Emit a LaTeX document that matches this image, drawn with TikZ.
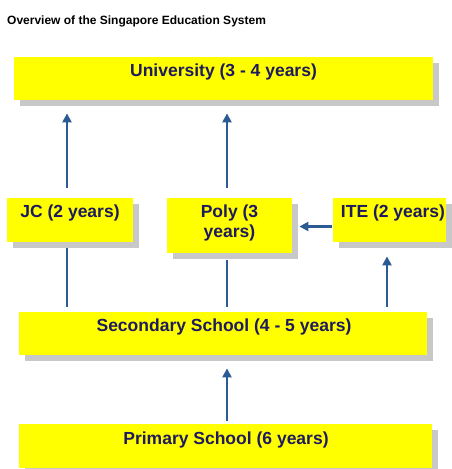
\documentclass[tikz,border=0pt]{standalone}
\usepackage{fontspec}
\setmainfont{Liberation Sans}
\usetikzlibrary{arrows.meta,shadows}

\definecolor{boxyellow}{RGB}{255,255,0}
\definecolor{shadowgray}{RGB}{200,200,200}
\definecolor{labelnavy}{RGB}{30,26,94}
\definecolor{arrowblue}{RGB}{44,90,148}

\tikzset{
  stagebox/.style={rectangle, fill=boxyellow, draw=none, inner sep=0pt, anchor=north west,
    general shadow={shadow xshift=6pt, shadow yshift=-6pt, fill=shadowgray}},
  stagetext/.style={text=labelnavy, inner sep=0pt, anchor=base, align=center,
    font=\fontsize{17.5}{20}\selectfont\bfseries},
  flow/.style={draw=arrowblue, line width=2.7pt, -{Triangle[width=9pt,length=9pt]}},
  link/.style={draw=arrowblue, line width=2.7pt},
}

\begin{document}
\begin{tikzpicture}[x=1pt, y=-1pt]
  \useasboundingbox (0,0) rectangle (451,469);

  % heading
  \node[anchor=base west, inner sep=0pt, font=\fontsize{12}{14}\selectfont\bfseries] (heading) at (7,24)
    {Overview of the Singapore Education System};

  % stage boxes
  \node[stagebox, minimum width=419pt, minimum height=43pt] (univ) at (14,57) {};
  \node[stagebox, minimum width=126pt, minimum height=44pt] (jc)   at (7,198) {};
  \node[stagebox, minimum width=125pt, minimum height=55pt] (poly) at (167,198) {};
  \node[stagebox, minimum width=113pt, minimum height=44pt] (ite)  at (333,198) {};
  \node[stagebox, minimum width=408pt, minimum height=43pt] (sec)  at (19,312) {};
  \node[stagebox, minimum width=413pt, minimum height=44pt] (prim) at (19,424) {};

  % stage labels (a two-line label sits on the baseline of its last line)
  \node[stagetext] (univ-t) at (223.5,76) {University (3 - 4 years)};
  \node[stagetext] (jc-t)   at (70,217)   {JC (2 years)};
  \node[stagetext] (poly-t) at (229.5,237) {Poly (3\\years)};
  \node[stagetext] (ite-t)  at (393,217)  {ITE (2 years)};
  \node[stagetext] (sec-t)  at (224,331)  {Secondary School (4 - 5 years)};
  \node[stagetext] (prim-t) at (226,444)  {Primary School (6 years)};

  % vertical guides for the connectors
  \coordinate (xa) at (67,0);
  \coordinate (xb) at (227,0);
  \coordinate (xc) at (387,0);
  \coordinate (yh) at (0,226.5);

  % progression arrows
  \draw[flow, shorten <=10pt, shorten >=13pt] (jc.north -| xa) -- (univ.south -| xa);
  \draw[flow, shorten <=10pt, shorten >=13pt] (poly.north -| xb) -- (univ.south -| xb);
  \draw[link, shorten <=6pt, shorten >=5pt] (jc.south -| xa) -- (sec.north -| xa);
  \draw[link, shorten <=7pt, shorten >=5pt] (poly.south -| xb) -- (sec.north -| xb);
  \draw[flow, shorten <=5pt, shorten >=14pt] (sec.north -| xc) -- (ite.south -| xc);
  \draw[flow, shorten <=1pt, shorten >=7pt] (ite.west |- yh) -- (poly.east |- yh);
  \draw[flow, shorten <=3pt, shorten >=13pt] (prim.north -| xb) -- (sec.south -| xb);
\end{tikzpicture}
\end{document}
